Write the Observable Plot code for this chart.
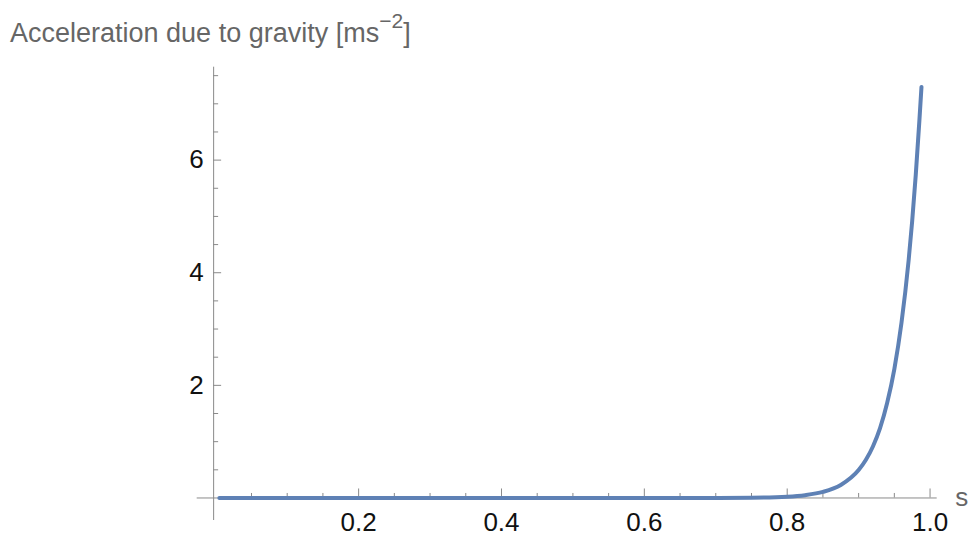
<!DOCTYPE html>
<html>
<head>
<meta charset="utf-8">
<script src="https://cdn.jsdelivr.net/npm/d3@7"></script>
<script src="https://cdn.jsdelivr.net/npm/@observablehq/plot@0.6"></script>
<style>
  body { margin: 0; background: #fff; font-family: "Liberation Sans", Arial, Helvetica, sans-serif; }
  #title { position: relative; height: 56px; width: 968px; }
  #title .t { position: absolute; left: 10px; top: 20px; font-size: 27px; line-height: 27px; color: #666; white-space: nowrap; }
  #title .sup { font-size: 21px; line-height: 0; vertical-align: 14px; }
</style>
</head>
<body>
<div id="title"><span class="t">Acceleration due to gravity [ms<span class="sup">−2</span>]</span></div>
<div id="chart"></div>
<script>
// Curve: s and acceleration (m s^-2)
const sValues = [0.005, 0.1, 0.2, 0.3, 0.4, 0.5, 0.6, 0.65, 0.7, 0.75, 0.8, 0.825, 0.85, 0.875, 0.9, 0.91, 0.92, 0.93, 0.94, 0.95, 0.96, 0.97, 0.975, 0.98, 0.985, 0.988];
const gValues = [0, 0, 0, 0, 0, 0, 0.0001, 0.0003, 0.0011, 0.005, 0.023, 0.05, 0.107, 0.231, 0.496, 0.674, 0.915, 1.24, 1.69, 2.29, 3.11, 4.22, 4.92, 5.74, 6.69, 7.3];

// Axes
const xMajorTicks = [0.2, 0.4, 0.6, 0.8, 1.0];
const xTickLabels = ["0.2", "0.4", "0.6", "0.8", "1.0"];
const xMinorTicks = [0.05, 0.1, 0.15, 0.25, 0.3, 0.35, 0.45, 0.5, 0.55, 0.65, 0.7, 0.75, 0.85, 0.9, 0.95];
const yMajorTicks = [2, 4, 6];
const yTickLabels = ["2", "4", "6"];
const yMinorTicks = [0.5, 1, 1.5, 2.5, 3, 3.5, 4.5, 5, 5.5, 6.5, 7, 7.5];
const xLabel = "s";
const xExtent = [-0.026, 1.01];
const yExtent = [-0.4, 7.65];
const yAxisAt = -0.003;

const data = sValues.map((s, i) => ({s, g: gValues[i]}));
const axisColor = "#8a8a8a";
const font = "'Liberation Sans', Arial, Helvetica, sans-serif";

const chart = Plot.plot({
  width: 968,
  height: 480,
  marginTop: 10.7,
  marginBottom: 16,
  marginLeft: 196.7,
  marginRight: 31.3,
  x: {domain: xExtent, axis: null},
  y: {domain: yExtent, axis: null},
  style: {fontFamily: font, background: "white", overflow: "visible"},
  marks: [
    Plot.ruleY([0], {x1: xExtent[0], x2: xExtent[1], stroke: axisColor, strokeWidth: 1}),
    Plot.ruleX([yAxisAt], {y1: yExtent[0], y2: yExtent[1], stroke: axisColor, strokeWidth: 1}),
    Plot.ruleX(xMajorTicks, {x: d => d, y1: 0, y2: 0, insetTop: -9, stroke: axisColor}),
    Plot.ruleX(xMinorTicks, {x: d => d, y1: 0, y2: 0, insetTop: -4.5, stroke: axisColor}),
    Plot.ruleY(yMajorTicks, {y: d => d, x1: yAxisAt, x2: yAxisAt, insetRight: -8, stroke: axisColor}),
    Plot.ruleY(yMinorTicks, {y: d => d, x1: yAxisAt, x2: yAxisAt, insetRight: -5, stroke: axisColor}),
    Plot.line(data, {x: "s", y: "g", stroke: "#5E81B5", strokeWidth: 4, curve: "monotone-x"}),
    Plot.text(xMajorTicks, {x: d => d, y: 0, dy: 25, text: (d, i) => xTickLabels[i], fontSize: 26, fill: "#111"}),
    Plot.text(yMajorTicks, {x: yAxisAt, y: d => d, dx: -10, text: (d, i) => yTickLabels[i], textAnchor: "end", fontSize: 26, fill: "#111"}),
    Plot.text([xLabel], {x: xExtent[1], y: 0, dx: 18, text: d => d, textAnchor: "start", fontSize: 26, fill: "#666"})
  ]
});
document.getElementById("chart").appendChild(chart);
</script>
</body>
</html>
